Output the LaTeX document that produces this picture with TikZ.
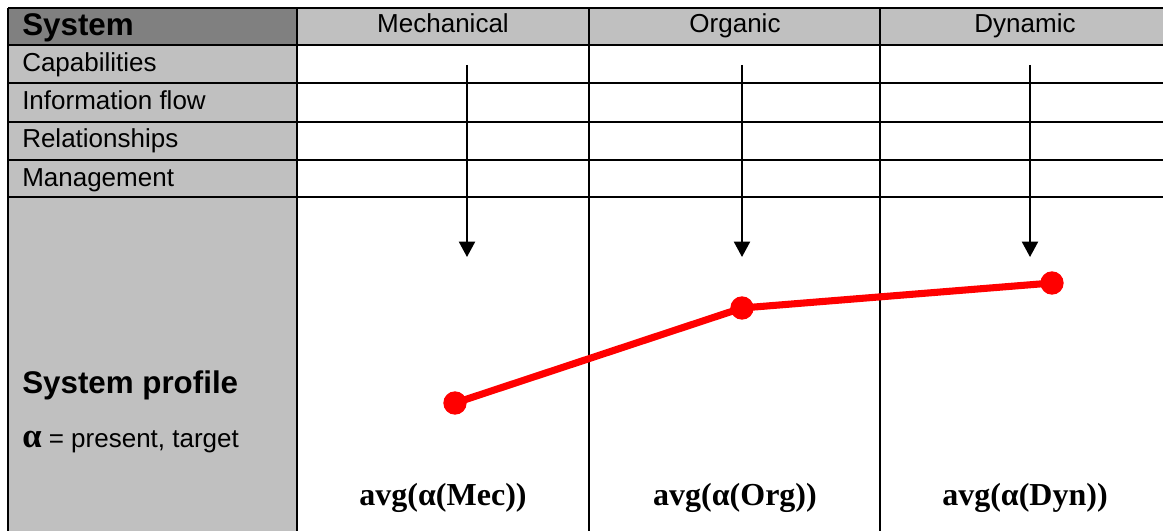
\documentclass[tikz,border=0pt]{standalone}
\usepackage{fontspec}
\setmainfont{Liberation Sans}
\newfontfamily\avgfont{Liberation Serif}
\usetikzlibrary{arrows.meta, positioning}

\definecolor{cellgrey}{HTML}{C0C0C0}
\definecolor{headgrey}{HTML}{808080}

\begin{document}
\begin{tikzpicture}[x=0.75pt, y=-0.75pt,
    grid/.style={line width=2.2pt, black},
    rowlabel/.style={anchor=base west, inner sep=0pt, font=\fontsize{19.5}{22}\selectfont},
    collabel/.style={anchor=base, inner sep=0pt, font=\fontsize{19.5}{22}\selectfont},
    boldlabel/.style={anchor=base west, inner sep=0pt, font=\bfseries\fontsize{23.5}{27}\selectfont},
    avglabel/.style={anchor=base, inner sep=0pt, font=\avgfont\bfseries\fontsize{24}{28}\selectfont},
    flow/.style={-{Triangle[width=12pt,length=11.5pt]}, line width=1.5pt},
    dot/.style={circle, fill=red, inner sep=0pt, minimum size=17.5pt},
    profile/.style={red, line width=5.3pt}
]
\useasboundingbox (0,0) rectangle (1163,531);

% grey cells
\fill[cellgrey] (8,8) rectangle (297,531);
\fill[cellgrey] (297,8) rectangle (1163,45);
\fill[headgrey] (8,8) rectangle (297,45);

% table rules
\foreach \y in {8,45,83,122,160,197}
    \draw[grid] (8,\y) -- (1163,\y);
\foreach \x in {8,297,589,880}
    \draw[grid] (\x,8) -- (\x,531);

% header and row texts
\node[boldlabel] (sys) at (22,36) {System};
\node[collabel] (mec) at (443,33) {Mechanical};
\node[collabel] (org) at (735,33) {Organic};
\node[collabel] (dyn) at (1025,33) {Dynamic};

\node[rowlabel] (cap) at (22,72) {Capabilities};
\node[rowlabel] (info) at (22,110) {Information flow};
\node[rowlabel] (rel) at (22,148) {Relationships};
\node[rowlabel] (man) at (22,186) {Management};

\node[boldlabel] (prof) at (22,393) {System profile};
\node[rowlabel] (alpha) at (22,447) {{\avgfont\bfseries\fontsize{26}{28}\selectfont α} = present, target};

% averages
\node[avglabel] (avgMec) at (443,505) {avg(α(Mec))};
\node[avglabel] (avgOrg) at (735,505) {avg(α(Org))};
\node[avglabel] (avgDyn) at (1025,505) {avg(α(Dyn))};

% aggregation arrows
\coordinate (mecTop) at (467,65);
\coordinate (mecEnd) at (467,257);
\coordinate (orgTop) at (742,65);
\coordinate (orgEnd) at (742,257);
\coordinate (dynTop) at (1030,65);
\coordinate (dynEnd) at (1030,257);
\draw[flow] (mecTop) -- (mecEnd);
\draw[flow] (orgTop) -- (orgEnd);
\draw[flow] (dynTop) -- (dynEnd);

% profile line
\node[dot] (pMec) at (455,403) {};
\node[dot] (pOrg) at (742,308) {};
\node[dot] (pDyn) at (1052,283) {};
\draw[profile] (pMec.center) -- (pOrg.center) -- (pDyn.center);
\end{tikzpicture}
\end{document}
